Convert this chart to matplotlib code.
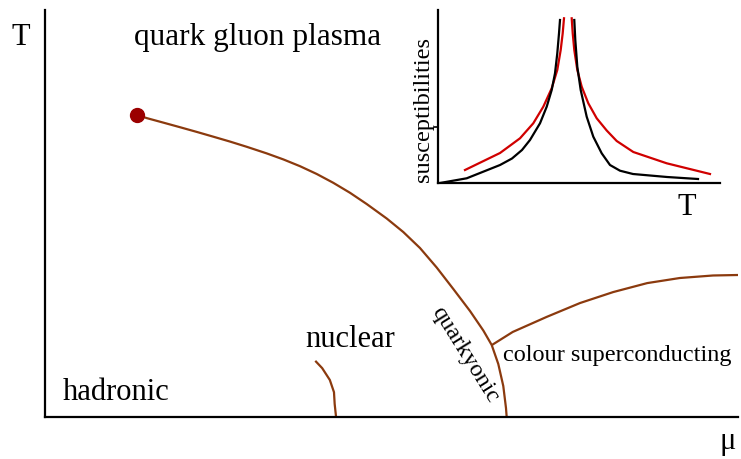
import matplotlib.pyplot as plt

plt.rcParams['font.family'] = ['Liberation Serif', 'DejaVu Serif']

# phase diagram (mu, T), schematic units 0..1
crit_mu, crit_T = 0.1328, 0.7420

cross_mu = [0.1328, 0.1468, 0.1707, 0.1948, 0.2189, 0.2429, 0.2670, 0.2911,
            0.3199, 0.3439, 0.3680, 0.3921, 0.4160, 0.4401, 0.4642, 0.4931,
            0.5170, 0.5411, 0.5652, 0.5892, 0.6133, 0.6325, 0.6446, 0.6541,
            0.6613, 0.6652, 0.6662]
cross_T = [0.7420, 0.7344, 0.7233, 0.7120, 0.7005, 0.6887, 0.6767, 0.6639,
           0.6477, 0.6329, 0.6162, 0.5971, 0.5754, 0.5509, 0.5233, 0.4877,
           0.4545, 0.4152, 0.3673, 0.3145, 0.2604, 0.2125, 0.1769, 0.1302,
           0.0762, 0.0221, 0.0]

nuc_mu = [0.390, 0.400, 0.411, 0.417, 0.418, 0.420]
nuc_T = [0.138, 0.120, 0.091, 0.061, 0.032, 0.0]

csc_mu = [0.645, 0.675, 0.724, 0.772, 0.820, 0.869, 0.916, 0.964, 1.0]
csc_T = [0.177, 0.209, 0.246, 0.280, 0.307, 0.329, 0.3415, 0.3477, 0.3489]

# inset susceptibilities vs T
blk_left_x = [0.0071, 0.1018, 0.2199, 0.2624, 0.2979, 0.3262, 0.3617, 0.3855,
              0.4032, 0.4149, 0.4230, 0.4291, 0.4326]
blk_left_y = [0.0, 0.0272, 0.1040, 0.1416, 0.1908, 0.2486, 0.3451, 0.4410,
              0.5376, 0.6341, 0.7497, 0.8653, 0.9422]
blk_right_x = [0.4833, 0.4869, 0.4940, 0.5060, 0.5273, 0.5507, 0.5805, 0.6099,
               0.6454, 0.6915, 0.8121, 0.9220]
blk_right_y = [0.9422, 0.8266, 0.6723, 0.5376, 0.3832, 0.2676, 0.1717, 0.1040,
               0.0711, 0.0520, 0.0347, 0.0231]

red_left_x = [0.0957, 0.2199, 0.2908, 0.3379, 0.3734, 0.4032, 0.4230, 0.4351,
              0.4422, 0.4468]
red_left_y = [0.0751, 0.1734, 0.2584, 0.3451, 0.4410, 0.5474, 0.6532, 0.7688,
              0.8653, 0.9520]
red_right_x = [0.4741, 0.4777, 0.4833, 0.4940, 0.5096, 0.5330, 0.5628, 0.5982,
               0.6337, 0.6926, 0.8110, 0.9645]
red_right_y = [0.9520, 0.8653, 0.7688, 0.6532, 0.5566, 0.4607, 0.3740, 0.3035,
               0.2428, 0.1792, 0.1139, 0.0520]

W, H = 741, 459
brown = '#8B3A0E'

fig = plt.figure(figsize=(W / 100, H / 100), dpi=100)


def px_rect(x0, y0, x1, y1):
    # pixel box (top-left origin) -> figure fraction rect
    return [x0 / W, 1 - y1 / H, (x1 - x0) / W, (y1 - y0) / H]


def ftext(x, y, s, **kw):
    fig.text(x / W, 1 - y / H, s, **kw)


ax = fig.add_axes(px_rect(45, 10, 738, 417))
ax.set_xlim(0, 1)
ax.set_ylim(0, 1)
for side in ['top', 'right']:
    ax.spines[side].set_visible(False)
for side in ['left', 'bottom']:
    ax.spines[side].set_linewidth(1.6)
ax.set_xticks([])
ax.set_yticks([])

line_kw = dict(color=brown, lw=1.6, solid_capstyle='butt', solid_joinstyle='round')
ax.plot(cross_mu, cross_T, **line_kw)
ax.plot(nuc_mu, nuc_T, **line_kw)
ax.plot(csc_mu, csc_T, **line_kw)
ax.plot([crit_mu], [crit_T], 'o', color='#9B0000', ms=10, zorder=3)

ftext(12, 45, 'T', fontsize=22)
ftext(720, 449, 'μ', fontsize=22)
ftext(134, 45, 'quark gluon plasma', fontsize=22.5)
ftext(63, 400, 'hadronic', fontsize=22)
ftext(305, 347, 'nuclear', fontsize=22)
ftext(503, 361, 'colour superconducting', fontsize=17.5)
ftext(465, 355, 'quarkyonic', fontsize=17.5, rotation=-58,
      ha='center', va='center', rotation_mode='anchor')

# inset
ins = fig.add_axes(px_rect(438, 10, 720, 183))
ins.set_xlim(0, 1)
ins.set_ylim(0, 1)
for side in ['top', 'right']:
    ins.spines[side].set_visible(False)
for side in ['left', 'bottom']:
    ins.spines[side].set_linewidth(1.6)
ins.set_xticks([])
ins.set_yticks([0.324])
ins.set_yticklabels([])
ins.tick_params(axis='y', direction='out', length=3, width=1.2)
ins.patch.set_alpha(0)

ins_kw = dict(lw=1.6, solid_joinstyle='round')
ins.plot(red_left_x, red_left_y, color='#D00000', **ins_kw)
ins.plot(red_right_x, red_right_y, color='#D00000', **ins_kw)
ins.plot(blk_left_x, blk_left_y, color='black', **ins_kw)
ins.plot(blk_right_x, blk_right_y, color='black', **ins_kw)

ftext(424, 110, 'susceptibilities', fontsize=17.5, rotation=90,
      ha='center', va='center')
ftext(678, 215, 'T', fontsize=22)

fig.savefig('out.png', dpi=100)
